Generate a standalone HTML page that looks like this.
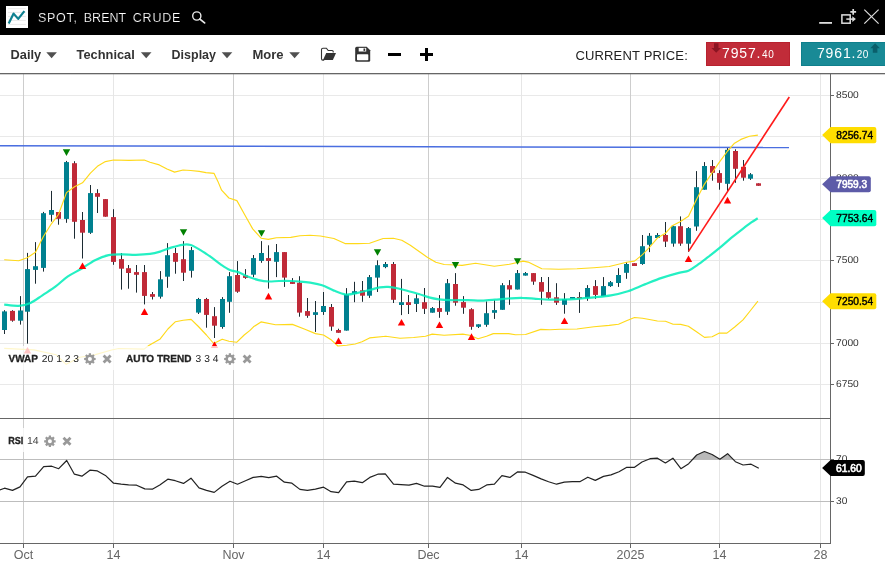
<!DOCTYPE html>
<html lang="en"><head><meta charset="utf-8"><title>SPOT, BRENT CRUDE</title>
<style>
html,body{margin:0;padding:0;background:#fff;}
body{width:885px;height:566px;overflow:hidden;position:relative;font-family:"Liberation Sans",Arial,sans-serif;}
svg{position:absolute;left:0;top:0;display:block;}
svg text{font-family:"Liberation Sans",Arial,sans-serif;}
</style></head><body>
<svg width="885" height="566" viewBox="0 0 885 566">
<rect x="0" y="0" width="885" height="566" fill="#fff"/>

<g id="grid" shape-rendering="crispEdges">
<line x1="0" y1="95.5" x2="830" y2="95.5" stroke="#e9e9e9" stroke-width="1"/>
<line x1="0" y1="136.5" x2="830" y2="136.5" stroke="#e9e9e9" stroke-width="1"/>
<line x1="0" y1="178.5" x2="830" y2="178.5" stroke="#e9e9e9" stroke-width="1"/>
<line x1="0" y1="219.5" x2="830" y2="219.5" stroke="#e9e9e9" stroke-width="1"/>
<line x1="0" y1="260.5" x2="830" y2="260.5" stroke="#e9e9e9" stroke-width="1"/>
<line x1="0" y1="302" x2="830" y2="302" stroke="#e9e9e9" stroke-width="1"/>
<line x1="0" y1="343.5" x2="830" y2="343.5" stroke="#e9e9e9" stroke-width="1"/>
<line x1="0" y1="384.5" x2="830" y2="384.5" stroke="#e9e9e9" stroke-width="1"/>
<line x1="23.5" y1="74" x2="23.5" y2="543" stroke="#cdcdcd" stroke-width="1"/>
<line x1="113.5" y1="74" x2="113.5" y2="543" stroke="#e6e6e6" stroke-width="1"/>
<line x1="233.5" y1="74" x2="233.5" y2="543" stroke="#cdcdcd" stroke-width="1"/>
<line x1="323.5" y1="74" x2="323.5" y2="543" stroke="#e6e6e6" stroke-width="1"/>
<line x1="428.5" y1="74" x2="428.5" y2="543" stroke="#cdcdcd" stroke-width="1"/>
<line x1="521.5" y1="74" x2="521.5" y2="543" stroke="#e6e6e6" stroke-width="1"/>
<line x1="630.5" y1="74" x2="630.5" y2="543" stroke="#cdcdcd" stroke-width="1"/>
<line x1="719.5" y1="74" x2="719.5" y2="543" stroke="#e6e6e6" stroke-width="1"/>
<line x1="820.5" y1="74" x2="820.5" y2="543" stroke="#e6e6e6" stroke-width="1"/>
<line x1="0" y1="459.5" x2="830" y2="459.5" stroke="#bdbdbd" stroke-width="1"/>
<line x1="0" y1="501.5" x2="830" y2="501.5" stroke="#bdbdbd" stroke-width="1"/>
</g>
<g id="candles">
<rect x="4.0" y="310.2" width="1" height="23.8" fill="#1c2b33"/>
<rect x="2.0" y="311.4" width="5" height="18.6" fill="#00808f"/>
<rect x="12.0" y="310.2" width="1" height="11.5" fill="#1c2b33"/>
<rect x="10.0" y="310.9" width="5" height="9.8" fill="#c02a38"/>
<rect x="20.0" y="296.1" width="1" height="28.5" fill="#1c2b33"/>
<rect x="18.0" y="310.5" width="5" height="10.2" fill="#00808f"/>
<rect x="27.0" y="252.9" width="1" height="90.7" fill="#1c2b33"/>
<rect x="25.0" y="269.1" width="5" height="42.6" fill="#00808f"/>
<rect x="35.0" y="242.1" width="1" height="41.6" fill="#1c2b33"/>
<rect x="33.0" y="266.2" width="5" height="3.7" fill="#00808f"/>
<rect x="43.0" y="211.9" width="1" height="59.7" fill="#1c2b33"/>
<rect x="41.0" y="213.2" width="5" height="54.7" fill="#00808f"/>
<rect x="51.0" y="190.9" width="1" height="30.7" fill="#1c2b33"/>
<rect x="49.0" y="210.0" width="5" height="4.8" fill="#00808f"/>
<rect x="58.0" y="212.0" width="1" height="12.7" fill="#1c2b33"/>
<rect x="56.0" y="212.0" width="5" height="6.8" fill="#c02a38"/>
<rect x="66.0" y="160.9" width="1" height="61.9" fill="#1c2b33"/>
<rect x="64.0" y="162.1" width="5" height="56.8" fill="#00808f"/>
<rect x="74.0" y="161.2" width="1" height="77.5" fill="#1c2b33"/>
<rect x="72.0" y="163.2" width="5" height="58.6" fill="#c02a38"/>
<rect x="82.0" y="212.0" width="1" height="46.5" fill="#1c2b33"/>
<rect x="80.0" y="220.0" width="5" height="12.7" fill="#c02a38"/>
<rect x="90.0" y="185.0" width="1" height="48.9" fill="#1c2b33"/>
<rect x="88.0" y="193.1" width="5" height="39.7" fill="#00808f"/>
<rect x="97.0" y="189.2" width="1" height="23.8" fill="#1c2b33"/>
<rect x="95.0" y="193.1" width="5" height="3.7" fill="#c02a38"/>
<rect x="105.0" y="199.1" width="1" height="17.6" fill="#1c2b33"/>
<rect x="103.0" y="199.1" width="5" height="17.6" fill="#c02a38"/>
<rect x="113.0" y="209.2" width="1" height="55.6" fill="#1c2b33"/>
<rect x="111.0" y="217.1" width="5" height="44.8" fill="#c02a38"/>
<rect x="121.0" y="253.1" width="1" height="36.5" fill="#1c2b33"/>
<rect x="119.0" y="259.1" width="5" height="9.6" fill="#c02a38"/>
<rect x="128.0" y="265.0" width="1" height="23.7" fill="#1c2b33"/>
<rect x="126.0" y="268.2" width="5" height="4.8" fill="#c02a38"/>
<rect x="136.0" y="265.0" width="1" height="27.6" fill="#1c2b33"/>
<rect x="134.0" y="272.1" width="5" height="2.7" fill="#c02a38"/>
<rect x="144.0" y="265.0" width="1" height="39.4" fill="#1c2b33"/>
<rect x="142.0" y="272.1" width="5" height="23.8" fill="#c02a38"/>
<rect x="152.0" y="292.0" width="1" height="7.5" fill="#1c2b33"/>
<rect x="150.0" y="294.1" width="5" height="2.7" fill="#c02a38"/>
<rect x="160.0" y="271.1" width="1" height="27.5" fill="#1c2b33"/>
<rect x="158.0" y="279.3" width="5" height="17.4" fill="#00808f"/>
<rect x="167.0" y="243.1" width="1" height="44.7" fill="#1c2b33"/>
<rect x="165.0" y="255.2" width="5" height="21.5" fill="#00808f"/>
<rect x="175.0" y="247.9" width="1" height="25.8" fill="#1c2b33"/>
<rect x="173.0" y="253.0" width="5" height="8.8" fill="#c02a38"/>
<rect x="183.0" y="241.1" width="1" height="39.9" fill="#1c2b33"/>
<rect x="181.0" y="259.2" width="5" height="13.5" fill="#c02a38"/>
<rect x="191.0" y="247.0" width="1" height="30.6" fill="#1c2b33"/>
<rect x="189.0" y="250.1" width="5" height="20.7" fill="#00808f"/>
<rect x="198.0" y="297.9" width="1" height="16.1" fill="#1c2b33"/>
<rect x="196.0" y="299.0" width="5" height="13.6" fill="#00808f"/>
<rect x="206.0" y="297.9" width="1" height="29.8" fill="#1c2b33"/>
<rect x="204.0" y="299.0" width="5" height="15.9" fill="#c02a38"/>
<rect x="214.0" y="307.1" width="1" height="30.9" fill="#1c2b33"/>
<rect x="212.0" y="316.2" width="5" height="9.5" fill="#c02a38"/>
<rect x="222.0" y="297.1" width="1" height="31.6" fill="#1c2b33"/>
<rect x="220.0" y="299.0" width="5" height="28.0" fill="#00808f"/>
<rect x="229.0" y="272.1" width="1" height="40.7" fill="#1c2b33"/>
<rect x="227.0" y="276.2" width="5" height="25.6" fill="#00808f"/>
<rect x="237.0" y="261.1" width="1" height="31.7" fill="#1c2b33"/>
<rect x="235.0" y="275.0" width="5" height="16.7" fill="#c02a38"/>
<rect x="245.0" y="269.1" width="1" height="9.7" fill="#1c2b33"/>
<rect x="243.0" y="275.4" width="5" height="2.5" fill="#c02a38"/>
<rect x="253.0" y="255.0" width="1" height="22.2" fill="#1c2b33"/>
<rect x="251.0" y="258.1" width="5" height="16.6" fill="#00808f"/>
<rect x="261.0" y="241.1" width="1" height="21.7" fill="#1c2b33"/>
<rect x="259.0" y="253.0" width="5" height="7.9" fill="#00808f"/>
<rect x="268.0" y="245.3" width="1" height="43.3" fill="#1c2b33"/>
<rect x="266.0" y="258.1" width="5" height="2.8" fill="#c02a38"/>
<rect x="276.0" y="244.0" width="1" height="33.1" fill="#1c2b33"/>
<rect x="274.0" y="252.1" width="5" height="9.7" fill="#00808f"/>
<rect x="284.0" y="252.1" width="1" height="34.8" fill="#1c2b33"/>
<rect x="282.0" y="252.1" width="5" height="25.5" fill="#c02a38"/>
<rect x="292.0" y="278.1" width="1" height="5.8" fill="#1c2b33"/>
<rect x="290.0" y="281.8" width="5" height="2.1" fill="#c02a38"/>
<rect x="299.0" y="276.2" width="1" height="40.5" fill="#1c2b33"/>
<rect x="297.0" y="282.7" width="5" height="29.9" fill="#c02a38"/>
<rect x="307.0" y="298.0" width="1" height="19.8" fill="#1c2b33"/>
<rect x="305.0" y="311.1" width="5" height="4.7" fill="#c02a38"/>
<rect x="315.0" y="301.0" width="1" height="30.9" fill="#1c2b33"/>
<rect x="313.0" y="312.2" width="5" height="2.7" fill="#00808f"/>
<rect x="323.0" y="292.0" width="1" height="22.9" fill="#1c2b33"/>
<rect x="321.0" y="306.0" width="5" height="6.0" fill="#00808f"/>
<rect x="331.0" y="304.0" width="1" height="26.8" fill="#1c2b33"/>
<rect x="329.0" y="307.0" width="5" height="19.6" fill="#c02a38"/>
<rect x="338.0" y="328.7" width="1" height="4.1" fill="#1c2b33"/>
<rect x="336.0" y="330.0" width="5" height="2.8" fill="#c02a38"/>
<rect x="346.0" y="288.1" width="1" height="42.5" fill="#1c2b33"/>
<rect x="344.0" y="294.5" width="5" height="36.1" fill="#00808f"/>
<rect x="354.0" y="281.8" width="1" height="20.4" fill="#1c2b33"/>
<rect x="352.0" y="291.2" width="5" height="2.5" fill="#00808f"/>
<rect x="362.0" y="281.0" width="1" height="20.8" fill="#1c2b33"/>
<rect x="360.0" y="290.3" width="5" height="5.4" fill="#c02a38"/>
<rect x="369.0" y="275.0" width="1" height="22.9" fill="#1c2b33"/>
<rect x="367.0" y="277.1" width="5" height="18.6" fill="#00808f"/>
<rect x="377.0" y="260.3" width="1" height="31.7" fill="#1c2b33"/>
<rect x="375.0" y="265.2" width="5" height="12.4" fill="#00808f"/>
<rect x="385.0" y="262.0" width="1" height="6.2" fill="#1c2b33"/>
<rect x="383.0" y="264.0" width="5" height="3.1" fill="#00808f"/>
<rect x="393.0" y="262.0" width="1" height="41.0" fill="#1c2b33"/>
<rect x="391.0" y="264.0" width="5" height="35.8" fill="#c02a38"/>
<rect x="401.0" y="278.9" width="1" height="36.2" fill="#1c2b33"/>
<rect x="399.0" y="302.2" width="5" height="2.8" fill="#00808f"/>
<rect x="408.0" y="295.0" width="1" height="19.0" fill="#1c2b33"/>
<rect x="406.0" y="302.2" width="5" height="2.8" fill="#c02a38"/>
<rect x="416.0" y="294.1" width="1" height="17.9" fill="#1c2b33"/>
<rect x="414.0" y="298.3" width="5" height="5.6" fill="#00808f"/>
<rect x="424.0" y="288.0" width="1" height="26.0" fill="#1c2b33"/>
<rect x="422.0" y="302.2" width="5" height="6.6" fill="#c02a38"/>
<rect x="432.0" y="307.0" width="1" height="5.7" fill="#1c2b33"/>
<rect x="430.0" y="308.1" width="5" height="4.6" fill="#00808f"/>
<rect x="439.0" y="295.1" width="1" height="22.7" fill="#1c2b33"/>
<rect x="437.0" y="308.1" width="5" height="3.8" fill="#c02a38"/>
<rect x="447.0" y="279.0" width="1" height="35.9" fill="#1c2b33"/>
<rect x="445.0" y="283.2" width="5" height="28.5" fill="#00808f"/>
<rect x="455.0" y="273.1" width="1" height="32.6" fill="#1c2b33"/>
<rect x="453.0" y="284.0" width="5" height="18.7" fill="#c02a38"/>
<rect x="463.0" y="296.1" width="1" height="17.7" fill="#1c2b33"/>
<rect x="461.0" y="302.1" width="5" height="5.6" fill="#c02a38"/>
<rect x="471.0" y="308.2" width="1" height="21.5" fill="#1c2b33"/>
<rect x="469.0" y="309.2" width="5" height="17.6" fill="#c02a38"/>
<rect x="478.0" y="324.3" width="1" height="3.7" fill="#1c2b33"/>
<rect x="476.0" y="324.3" width="5" height="2.5" fill="#00808f"/>
<rect x="486.0" y="301.4" width="1" height="25.4" fill="#1c2b33"/>
<rect x="484.0" y="313.2" width="5" height="11.6" fill="#00808f"/>
<rect x="494.0" y="300.2" width="1" height="18.7" fill="#1c2b33"/>
<rect x="492.0" y="310.1" width="5" height="2.7" fill="#00808f"/>
<rect x="502.0" y="283.1" width="1" height="26.7" fill="#1c2b33"/>
<rect x="500.0" y="285.2" width="5" height="24.6" fill="#00808f"/>
<rect x="509.0" y="280.1" width="1" height="24.7" fill="#1c2b33"/>
<rect x="507.0" y="285.2" width="5" height="4.3" fill="#c02a38"/>
<rect x="517.0" y="270.0" width="1" height="19.5" fill="#1c2b33"/>
<rect x="515.0" y="273.1" width="5" height="16.4" fill="#00808f"/>
<rect x="525.0" y="272.0" width="1" height="3.6" fill="#1c2b33"/>
<rect x="523.0" y="273.1" width="5" height="2.5" fill="#00808f"/>
<rect x="533.0" y="273.1" width="1" height="11.7" fill="#1c2b33"/>
<rect x="531.0" y="273.1" width="5" height="8.5" fill="#c02a38"/>
<rect x="541.0" y="277.0" width="1" height="27.8" fill="#1c2b33"/>
<rect x="539.0" y="282.1" width="5" height="9.6" fill="#c02a38"/>
<rect x="548.0" y="277.0" width="1" height="22.0" fill="#1c2b33"/>
<rect x="546.0" y="292.1" width="5" height="5.7" fill="#c02a38"/>
<rect x="556.0" y="283.2" width="1" height="21.7" fill="#1c2b33"/>
<rect x="554.0" y="297.3" width="5" height="5.4" fill="#c02a38"/>
<rect x="564.0" y="293.1" width="1" height="20.6" fill="#1c2b33"/>
<rect x="562.0" y="299.0" width="5" height="5.8" fill="#00808f"/>
<rect x="572.0" y="297.0" width="1" height="1.8" fill="#1c2b33"/>
<rect x="570.0" y="297.0" width="5" height="1.8" fill="#00808f"/>
<rect x="579.0" y="292.1" width="1" height="20.8" fill="#1c2b33"/>
<rect x="577.0" y="297.0" width="5" height="1.6" fill="#c02a38"/>
<rect x="587.0" y="285.1" width="1" height="15.7" fill="#1c2b33"/>
<rect x="585.0" y="288.0" width="5" height="10.0" fill="#00808f"/>
<rect x="595.0" y="280.1" width="1" height="18.7" fill="#1c2b33"/>
<rect x="593.0" y="286.1" width="5" height="8.8" fill="#c02a38"/>
<rect x="603.0" y="277.1" width="1" height="19.1" fill="#1c2b33"/>
<rect x="601.0" y="286.1" width="5" height="10.1" fill="#00808f"/>
<rect x="610.0" y="281.0" width="1" height="5.9" fill="#1c2b33"/>
<rect x="608.0" y="282.2" width="5" height="3.9" fill="#00808f"/>
<rect x="618.0" y="268.2" width="1" height="18.7" fill="#1c2b33"/>
<rect x="616.0" y="275.0" width="5" height="8.0" fill="#00808f"/>
<rect x="626.0" y="262.0" width="1" height="16.8" fill="#1c2b33"/>
<rect x="624.0" y="264.0" width="5" height="8.8" fill="#00808f"/>
<rect x="634.0" y="263.2" width="1" height="2.8" fill="#1c2b33"/>
<rect x="632.0" y="263.2" width="5" height="2.8" fill="#c02a38"/>
<rect x="642.0" y="235.0" width="1" height="29.8" fill="#1c2b33"/>
<rect x="640.0" y="246.2" width="5" height="17.8" fill="#00808f"/>
<rect x="649.0" y="233.1" width="1" height="19.0" fill="#1c2b33"/>
<rect x="647.0" y="235.8" width="5" height="9.0" fill="#00808f"/>
<rect x="657.0" y="233.1" width="1" height="4.9" fill="#1c2b33"/>
<rect x="655.0" y="235.0" width="5" height="3.0" fill="#00808f"/>
<rect x="665.0" y="222.0" width="1" height="25.0" fill="#1c2b33"/>
<rect x="663.0" y="235.0" width="5" height="6.6" fill="#c02a38"/>
<rect x="673.0" y="225.7" width="1" height="21.0" fill="#1c2b33"/>
<rect x="671.0" y="226.2" width="5" height="17.4" fill="#00808f"/>
<rect x="680.0" y="216.4" width="1" height="29.4" fill="#1c2b33"/>
<rect x="678.0" y="226.2" width="5" height="17.4" fill="#c02a38"/>
<rect x="688.0" y="227.0" width="1" height="24.8" fill="#1c2b33"/>
<rect x="686.0" y="228.1" width="5" height="15.6" fill="#00808f"/>
<rect x="696.0" y="171.1" width="1" height="59.7" fill="#1c2b33"/>
<rect x="694.0" y="187.2" width="5" height="39.3" fill="#00808f"/>
<rect x="704.0" y="162.1" width="1" height="27.6" fill="#1c2b33"/>
<rect x="702.0" y="166.0" width="5" height="23.7" fill="#00808f"/>
<rect x="712.0" y="160.0" width="1" height="20.7" fill="#1c2b33"/>
<rect x="710.0" y="166.0" width="5" height="6.8" fill="#c02a38"/>
<rect x="719.0" y="170.2" width="1" height="19.5" fill="#1c2b33"/>
<rect x="717.0" y="173.1" width="5" height="9.7" fill="#c02a38"/>
<rect x="727.0" y="147.6" width="1" height="43.3" fill="#1c2b33"/>
<rect x="725.0" y="149.8" width="5" height="34.0" fill="#00808f"/>
<rect x="735.0" y="149.3" width="1" height="33.5" fill="#1c2b33"/>
<rect x="733.0" y="151.0" width="5" height="17.8" fill="#c02a38"/>
<rect x="743.0" y="160.0" width="1" height="20.7" fill="#1c2b33"/>
<rect x="741.0" y="166.8" width="5" height="10.9" fill="#c02a38"/>
<rect x="750.0" y="173.1" width="1" height="6.8" fill="#1c2b33"/>
<rect x="748.0" y="174.3" width="5" height="4.4" fill="#00808f"/>
<rect x="758.0" y="183.3" width="1" height="2.5" fill="#1c2b33"/>
<rect x="756.0" y="183.3" width="5" height="2.5" fill="#c02a38"/>
</g>
<line x1="0" y1="145.8" x2="789" y2="147.55" stroke="#4a6ee0" stroke-width="1.5"/>
<polyline points="4.2,259.7 18.7,260.7 27.2,257.7 35.5,252.3 43.4,236.5 51.4,223.8 58.5,214.5 66.5,192.6 74.5,186.7 82.5,182.8 90.4,173.1 97.4,166.3 105.4,161.6 113.5,160.0 129.0,160.4 144.2,160.0 150.0,162.2 159.3,164.9 167.0,169.0 174.6,172.1 183.1,170.0 190.7,170.5 199.2,171.4 206.0,172.6 214.1,173.4 217.9,181.4 221.6,190.2 228.9,198.0 236.9,200.6 245.0,215.3 252.7,228.9 261.1,238.2 268.3,239.4 276.4,237.7 290.8,237.4 300.0,235.7 310.0,235.2 320.4,236.0 333.9,238.5 345.0,243.6 357.7,243.6 369.6,243.3 383.1,238.5 393.3,238.2 401.8,240.2 410.3,245.3 418.8,251.3 427.3,257.2 435.8,262.3 444.2,264.5 450.2,264.7 462.1,265.4 475.6,263.3 494.3,266.2 509.6,264.2 523.1,261.1 528.2,262.1 541.8,268.8 558.8,269.3 577.0,268.8 593.9,267.7 609.2,266.5 618.5,264.3 626.5,262.3 634.5,261.1 642.5,254.6 649.4,247.4 657.4,238.1 665.4,233.3 672.2,225.7 680.1,221.8 688.5,216.2 696.5,199.4 704.5,184.1 712.5,172.2 719.4,162.1 727.6,151.0 734.1,143.6 740.9,139.4 749.4,136.3 757.9,135.1" fill="none" stroke="#ffd91a" stroke-width="1.15" stroke-linejoin="round"/>
<polyline points="4.2,348.4 34.0,349.9 56.0,354.7 66.2,364.3 80.0,357.3 94.5,354.9 111.6,350.0 118.7,348.5 144.1,349.1 149.2,345.2 160.2,338.9 167.9,329.0 175.5,321.7 183.2,320.2 191.1,319.4 198.4,326.5 206.4,335.0 213.7,343.5 222.2,339.2 229.0,341.2 236.6,342.3 244.2,335.0 250.0,330.4 253.5,326.8 261.0,321.9 275.5,324.8 292.4,324.4 304.3,329.0 315.5,333.6 323.5,335.0 331.5,340.1 337.9,346.0 346.7,345.2 355.2,344.0 362.0,341.8 369.6,337.9 385.8,336.2 400.0,338.3 413.6,337.5 425.5,336.2 432.2,334.1 444.1,335.3 462.8,334.1 469.6,335.3 478.1,338.7 486.5,336.2 493.3,333.6 508.6,333.6 515.4,334.8 525.6,334.5 540.8,329.4 550.0,329.7 560.0,329.3 577.0,329.0 593.9,326.8 609.2,325.4 618.5,324.2 626.5,320.8 634.5,317.5 642.5,318.3 649.4,319.5 657.4,321.0 665.5,321.3 673.1,324.3 680.7,324.4 688.4,326.2 696.5,331.8 704.5,337.4 712.1,336.8 719.4,333.1 726.9,333.1 735.0,326.7 743.0,319.9 750.5,310.5 757.9,301.2" fill="none" stroke="#ffd91a" stroke-width="1.15" stroke-linejoin="round"/>
<path d="M4.2,304.6 C6.6,304.8 14.3,306.1 18.7,305.8 C23.1,305.5 26.6,304.6 30.5,302.9 C34.5,301.1 38.1,298.1 42.4,295.3 C46.6,292.5 51.8,289.4 56.0,286.2 C60.2,283.0 63.7,279.3 67.9,276.4 C72.2,273.5 77.0,271.4 81.5,268.7 C86.0,266.0 90.5,262.5 95.0,260.2 C99.5,257.9 104.1,256.1 108.6,255.1 C113.1,254.1 117.7,254.4 122.2,254.3 C126.7,254.2 131.2,254.9 135.8,254.8 C140.4,254.7 145.9,254.4 150.0,253.9 C154.1,253.4 156.8,252.6 160.2,251.6 C163.6,250.6 166.7,249.0 170.4,247.9 C174.1,246.8 178.8,245.3 182.2,244.8 C185.6,244.3 187.6,244.1 190.7,245.0 C193.8,245.9 197.5,248.4 200.9,250.4 C204.3,252.4 207.7,254.8 211.1,257.2 C214.5,259.6 218.2,262.7 221.3,264.8 C224.4,266.9 227.0,268.7 229.8,269.9 C232.6,271.1 235.1,271.0 238.2,272.1 C241.3,273.2 245.0,275.4 248.4,276.7 C251.8,278.0 255.2,279.3 258.6,280.1 C262.0,280.9 265.4,281.4 268.8,281.5 C272.2,281.6 275.3,281.1 279.0,281.0 C282.7,280.9 287.3,280.9 290.8,281.0 C294.3,281.1 296.8,281.2 300.0,281.5 C303.2,281.8 306.5,282.1 310.2,282.7 C313.9,283.3 318.2,283.9 322.1,285.2 C326.1,286.5 329.9,289.1 333.9,290.6 C337.8,292.2 341.8,294.1 345.8,294.5 C349.8,294.9 353.7,293.6 357.7,292.8 C361.7,292.1 365.9,290.9 369.6,290.0 C373.3,289.1 376.7,287.9 379.8,287.4 C382.9,286.9 385.1,286.7 388.2,286.9 C391.3,287.1 395.0,287.8 398.4,288.5 C401.8,289.2 405.2,290.3 408.6,291.2 C412.0,292.1 415.4,293.0 418.8,294.0 C422.2,295.0 425.6,296.5 429.0,297.4 C432.4,298.3 435.5,298.9 439.1,299.4 C442.8,299.9 446.1,300.1 450.9,300.2 C455.7,300.3 462.8,300.1 467.9,300.2 C473.0,300.3 477.0,300.8 481.5,300.7 C486.0,300.6 490.5,300.1 495.0,299.7 C499.5,299.3 504.1,298.8 508.6,298.5 C513.1,298.2 517.7,297.8 522.2,297.9 C526.7,297.9 531.2,298.5 535.8,298.8 C540.4,299.1 545.6,299.5 550.0,299.6 C554.4,299.7 557.7,299.6 562.2,299.5 C566.7,299.4 571.7,299.2 577.0,298.8 C582.3,298.4 588.2,298.0 593.9,297.4 C599.5,296.8 605.2,296.4 610.9,295.4 C616.6,294.4 622.2,293.0 627.9,291.2 C633.5,289.4 639.1,286.6 644.8,284.4 C650.4,282.2 656.1,279.8 661.8,277.9 C667.5,276.0 674.3,274.1 678.8,272.9 C683.2,271.7 685.5,272.1 688.5,270.8 C691.5,269.5 693.9,267.5 697.0,265.3 C700.1,263.1 703.5,260.5 707.2,257.7 C710.9,254.9 715.0,251.7 719.0,248.4 C723.0,245.2 726.9,241.5 730.9,238.2 C734.9,234.9 739.4,231.4 742.8,228.8 C746.2,226.2 748.8,224.2 751.3,222.4 C753.8,220.7 756.6,219.0 757.7,218.3" fill="none" stroke="#00eeb9" stroke-width="2.2" stroke-opacity="0.86" stroke-linejoin="round" stroke-linecap="butt"/>
<line x1="688.5" y1="251.4" x2="789.3" y2="97" stroke="#ff1a1a" stroke-width="1.6"/>
<polygon points="62.8,149.3 70.2,149.3 66.5,155.9" fill="#008000"/>
<polygon points="179.8,229.2 187.2,229.2 183.5,235.8" fill="#008000"/>
<polygon points="257.8,230.2 265.2,230.2 261.5,236.8" fill="#008000"/>
<polygon points="373.8,249.2 381.2,249.2 377.5,255.8" fill="#008000"/>
<polygon points="451.8,262.1 459.2,262.1 455.5,268.7" fill="#008000"/>
<polygon points="513.8,258.2 521.2,258.2 517.5,264.8" fill="#008000"/>
<polygon points="23.8,353.6 31.2,353.6 27.5,347.0" fill="#ff0000"/>
<polygon points="78.8,269.0 86.2,269.0 82.5,262.4" fill="#ff0000"/>
<polygon points="140.8,314.9 148.2,314.9 144.5,308.3" fill="#ff0000"/>
<polygon points="210.8,348.1 218.2,348.1 214.5,341.5" fill="#ff0000"/>
<polygon points="264.8,299.4 272.2,299.4 268.5,292.8" fill="#ff0000"/>
<polygon points="334.8,344.1 342.2,344.1 338.5,337.5" fill="#ff0000"/>
<polygon points="397.8,325.5 405.2,325.5 401.5,318.9" fill="#ff0000"/>
<polygon points="435.8,328.0 443.2,328.0 439.5,321.4" fill="#ff0000"/>
<polygon points="467.8,339.9 475.2,339.9 471.5,333.3" fill="#ff0000"/>
<polygon points="560.8,324.1 568.2,324.1 564.5,317.5" fill="#ff0000"/>
<polygon points="684.8,262.1 692.2,262.1 688.5,255.5" fill="#ff0000"/>
<polygon points="723.8,203.4 731.2,203.4 727.5,196.8" fill="#ff0000"/>
<rect x="4" y="346" width="252" height="24" fill="#fff" fill-opacity="0.77"/>
<rect x="4" y="428" width="72" height="24" fill="#fff" fill-opacity="0.77"/>
<g font-size="10.2" fill="#222" text-rendering="geometricPrecision">
<text x="8.5" y="362" font-weight="bold" stroke="#222" stroke-width="0.3" textLength="29.5" lengthAdjust="spacingAndGlyphs">VWAP</text>
<text x="41.8" y="362" textLength="37.3" lengthAdjust="spacingAndGlyphs">20 1 2 3</text>
<text x="125.9" y="362" font-weight="bold" stroke="#222" stroke-width="0.3" textLength="65.6" lengthAdjust="spacingAndGlyphs">AUTO TREND</text>
<text x="195.6" y="362" textLength="22.8" lengthAdjust="spacingAndGlyphs">3 3 4</text>
<text x="8.2" y="443.9" font-weight="bold" stroke="#222" stroke-width="0.3" textLength="15.2" lengthAdjust="spacingAndGlyphs">RSI</text>
<text x="27" y="443.9" fill="#444" textLength="11.7" lengthAdjust="spacingAndGlyphs">14</text>
</g>
<path d="M94.14,357.83L95.64,357.90L95.64,360.10L94.14,360.17L93.73,361.17L94.74,362.28L93.18,363.84L92.07,362.83L91.07,363.24L91.00,364.74L88.80,364.74L88.73,363.24L87.73,362.83L86.62,363.84L85.06,362.28L86.07,361.17L85.66,360.17L84.16,360.10L84.16,357.90L85.66,357.83L86.07,356.83L85.06,355.72L86.62,354.16L87.73,355.17L88.73,354.76L88.80,353.26L91.00,353.26L91.07,354.76L92.07,355.17L93.18,354.16L94.74,355.72L93.73,356.83ZM91.90,359.00A2.0,2.0 0 1,0 87.90,359.00A2.0,2.0 0 1,0 91.90,359.00Z" fill="#999" fill-rule="evenodd"/>
<path d="M103.6,355.5L110.6,362.5M110.6,355.5L103.6,362.5" stroke="#999" stroke-width="2.8" stroke-linecap="butt" fill="none"/>
<path d="M234.14,357.83L235.64,357.90L235.64,360.10L234.14,360.17L233.73,361.17L234.74,362.28L233.18,363.84L232.07,362.83L231.07,363.24L231.00,364.74L228.80,364.74L228.73,363.24L227.73,362.83L226.62,363.84L225.06,362.28L226.07,361.17L225.66,360.17L224.16,360.10L224.16,357.90L225.66,357.83L226.07,356.83L225.06,355.72L226.62,354.16L227.73,355.17L228.73,354.76L228.80,353.26L231.00,353.26L231.07,354.76L232.07,355.17L233.18,354.16L234.74,355.72L233.73,356.83ZM231.90,359.00A2.0,2.0 0 1,0 227.90,359.00A2.0,2.0 0 1,0 231.90,359.00Z" fill="#999" fill-rule="evenodd"/>
<path d="M243.6,355.5L250.6,362.5M250.6,355.5L243.6,362.5" stroke="#999" stroke-width="2.8" stroke-linecap="butt" fill="none"/>
<path d="M54.14,440.13L55.64,440.20L55.64,442.40L54.14,442.47L53.73,443.47L54.74,444.58L53.18,446.14L52.07,445.13L51.07,445.54L51.00,447.04L48.80,447.04L48.73,445.54L47.73,445.13L46.62,446.14L45.06,444.58L46.07,443.47L45.66,442.47L44.16,442.40L44.16,440.20L45.66,440.13L46.07,439.13L45.06,438.02L46.62,436.46L47.73,437.47L48.73,437.06L48.80,435.56L51.00,435.56L51.07,437.06L52.07,437.47L53.18,436.46L54.74,438.02L53.73,439.13ZM51.90,441.30A2.0,2.0 0 1,0 47.90,441.30A2.0,2.0 0 1,0 51.90,441.30Z" fill="#999" fill-rule="evenodd"/>
<path d="M63.5,437.8L70.5,444.8M70.5,437.8L63.5,444.8" stroke="#999" stroke-width="2.8" stroke-linecap="butt" fill="none"/>
<clipPath id="ob"><rect x="0" y="440" width="830" height="19.5"/></clipPath>
<polygon points="-3.3,470.0 -3.3,491.2 4.5,488.2 12.5,490.4 20.0,486.9 27.5,476.9 35.5,476.2 43.7,466.7 51.7,466.2 58.7,468.7 66.7,460.5 74.4,474.2 81.9,476.2 89.9,470.2 97.4,470.9 105.4,475.4 113.6,483.2 121.1,484.2 128.6,484.9 136.6,485.2 144.8,488.9 152.3,489.2 159.8,484.9 167.8,479.2 175.3,480.7 183.5,483.4 191.0,478.2 199.0,487.9 206.5,490.4 214.2,492.4 222.0,486.2 230.0,481.2 237.5,484.2 245.5,480.7 253.2,477.4 261.2,476.4 268.7,477.7 276.7,476.2 284.4,482.2 291.9,483.2 299.9,489.4 307.4,490.4 315.4,489.2 323.6,487.2 331.1,491.7 338.6,492.7 346.6,481.9 354.3,481.2 362.3,482.7 369.8,477.4 377.8,474.2 385.3,473.9 393.5,484.2 401.0,484.7 409.0,485.2 416.5,483.4 424.5,486.2 432.5,486.2 440.0,487.4 447.5,477.4 455.5,483.2 463.2,484.9 471.2,490.4 478.7,489.4 486.7,484.9 494.4,484.2 501.9,475.7 509.9,477.4 517.4,471.9 525.4,472.2 533.1,475.4 541.1,478.9 548.6,481.7 556.6,484.2 564.3,482.2 572.3,481.7 579.8,481.7 587.8,477.2 595.3,480.4 603.5,476.4 611.0,474.9 619.0,471.7 626.4,467.4 634.2,467.4 642.0,462.0 650.0,458.7 657.5,458.2 665.4,463.0 672.9,458.2 680.9,468.7 688.7,463.7 696.7,455.0 704.4,451.5 712.1,454.5 719.9,459.2 727.6,453.7 735.4,461.7 743.1,465.0 751.1,464.2 758.8,468.2 758.8,470.0" fill="#b9b9b9" clip-path="url(#ob)"/>
<polyline points="-3.3,491.2 4.5,488.2 12.5,490.4 20.0,486.9 27.5,476.9 35.5,476.2 43.7,466.7 51.7,466.2 58.7,468.7 66.7,460.5 74.4,474.2 81.9,476.2 89.9,470.2 97.4,470.9 105.4,475.4 113.6,483.2 121.1,484.2 128.6,484.9 136.6,485.2 144.8,488.9 152.3,489.2 159.8,484.9 167.8,479.2 175.3,480.7 183.5,483.4 191.0,478.2 199.0,487.9 206.5,490.4 214.2,492.4 222.0,486.2 230.0,481.2 237.5,484.2 245.5,480.7 253.2,477.4 261.2,476.4 268.7,477.7 276.7,476.2 284.4,482.2 291.9,483.2 299.9,489.4 307.4,490.4 315.4,489.2 323.6,487.2 331.1,491.7 338.6,492.7 346.6,481.9 354.3,481.2 362.3,482.7 369.8,477.4 377.8,474.2 385.3,473.9 393.5,484.2 401.0,484.7 409.0,485.2 416.5,483.4 424.5,486.2 432.5,486.2 440.0,487.4 447.5,477.4 455.5,483.2 463.2,484.9 471.2,490.4 478.7,489.4 486.7,484.9 494.4,484.2 501.9,475.7 509.9,477.4 517.4,471.9 525.4,472.2 533.1,475.4 541.1,478.9 548.6,481.7 556.6,484.2 564.3,482.2 572.3,481.7 579.8,481.7 587.8,477.2 595.3,480.4 603.5,476.4 611.0,474.9 619.0,471.7 626.4,467.4 634.2,467.4 642.0,462.0 650.0,458.7 657.5,458.2 665.4,463.0 672.9,458.2 680.9,468.7 688.7,463.7 696.7,455.0 704.4,451.5 712.1,454.5 719.9,459.2 727.6,453.7 735.4,461.7 743.1,465.0 751.1,464.2 758.8,468.2" fill="none" stroke="#222" stroke-width="1.2" stroke-linejoin="round"/>
<g shape-rendering="crispEdges" stroke="#666" stroke-width="1">
<line x1="0" y1="418.5" x2="830" y2="418.5"/>
<line x1="0" y1="543.5" x2="831" y2="543.5"/>
<line x1="830.5" y1="74" x2="830.5" y2="544"/>
<line x1="831" y1="95.5" x2="833.6" y2="95.5"/>
<line x1="831" y1="136.5" x2="833.6" y2="136.5"/>
<line x1="831" y1="178.5" x2="833.6" y2="178.5"/>
<line x1="831" y1="219.5" x2="833.6" y2="219.5"/>
<line x1="831" y1="260.5" x2="833.6" y2="260.5"/>
<line x1="831" y1="302" x2="833.6" y2="302"/>
<line x1="831" y1="343.5" x2="833.6" y2="343.5"/>
<line x1="831" y1="384.5" x2="833.6" y2="384.5"/>
<line x1="831" y1="459.5" x2="833.6" y2="459.5"/>
<line x1="831" y1="501.5" x2="833.6" y2="501.5"/>
<line x1="23.5" y1="544" x2="23.5" y2="548"/>
<line x1="113.5" y1="544" x2="113.5" y2="548"/>
<line x1="233.5" y1="544" x2="233.5" y2="548"/>
<line x1="323.5" y1="544" x2="323.5" y2="548"/>
<line x1="428.5" y1="544" x2="428.5" y2="548"/>
<line x1="521.5" y1="544" x2="521.5" y2="548"/>
<line x1="630.5" y1="544" x2="630.5" y2="548"/>
<line x1="719.5" y1="544" x2="719.5" y2="548"/>
<line x1="820.5" y1="544" x2="820.5" y2="548"/>
</g>
<g font-size="9.8" fill="#333" text-rendering="geometricPrecision">
<text x="836.1" y="98.1" textLength="22.7" lengthAdjust="spacingAndGlyphs">8500</text>
<text x="836.1" y="139.1" textLength="22.7" lengthAdjust="spacingAndGlyphs">8250</text>
<text x="836.1" y="181.1" textLength="22.7" lengthAdjust="spacingAndGlyphs">8000</text>
<text x="836.1" y="222.1" textLength="22.7" lengthAdjust="spacingAndGlyphs">7750</text>
<text x="836.1" y="263.1" textLength="22.7" lengthAdjust="spacingAndGlyphs">7500</text>
<text x="836.1" y="304.6" textLength="22.7" lengthAdjust="spacingAndGlyphs">7250</text>
<text x="836.1" y="346.1" textLength="22.7" lengthAdjust="spacingAndGlyphs">7000</text>
<text x="836.1" y="387.1" textLength="22.7" lengthAdjust="spacingAndGlyphs">6750</text>
<text x="836.1" y="462.2" textLength="11.3" lengthAdjust="spacingAndGlyphs">70</text>
<text x="836.1" y="504.2" textLength="11.3" lengthAdjust="spacingAndGlyphs">30</text>
</g>
<g font-size="12.5" fill="#666" text-anchor="middle">
<text x="23.5" y="559">Oct</text>
<text x="113.5" y="559">14</text>
<text x="233.5" y="559">Nov</text>
<text x="323.5" y="559">14</text>
<text x="428.5" y="559">Dec</text>
<text x="521.5" y="559">14</text>
<text x="630.5" y="559">2025</text>
<text x="719.5" y="559">14</text>
<text x="820.5" y="559">28</text>
</g>
<path d="M822.1,135.1L830.6,127.0L874.3,127.0Q876.3,127.0 876.3,129.0L876.3,141.2Q876.3,143.2 874.3,143.2L830.6,143.2Z" fill="#ffdd00"/><text x="836.3" y="138.7" font-size="10" fill="#000" stroke="#000" stroke-width="0.4" textLength="36.9" lengthAdjust="spacingAndGlyphs">8256.74</text>
<path d="M822.1,184.2L830.6,176.2L868.8,176.2Q870.8,176.2 870.8,178.2L870.8,190.2Q870.8,192.2 868.8,192.2L830.6,192.2Z" fill="#5d5ba8"/><text x="836.3" y="187.8" font-size="10" fill="#fff" stroke="#fff" stroke-width="0.6" textLength="30.8" lengthAdjust="spacingAndGlyphs">7959.3</text>
<path d="M822.1,218.1L830.6,209.9L874.3,209.9Q876.3,209.9 876.3,211.9L876.3,224.2Q876.3,226.2 874.3,226.2L830.6,226.2Z" fill="#00ffc3"/><text x="836.3" y="221.7" font-size="10" fill="#000" stroke="#000" stroke-width="0.4" textLength="36.9" lengthAdjust="spacingAndGlyphs">7753.64</text>
<path d="M822.1,301.2L830.6,293.2L874.3,293.2Q876.3,293.2 876.3,295.2L876.3,307.3Q876.3,309.3 874.3,309.3L830.6,309.3Z" fill="#ffdd00"/><text x="836.3" y="304.9" font-size="10" fill="#000" stroke="#000" stroke-width="0.4" textLength="36.9" lengthAdjust="spacingAndGlyphs">7250.54</text>
<path d="M822.1,468.1L830.6,460.1L862.8,460.1Q864.8,460.1 864.8,462.1L864.8,474.1Q864.8,476.1 862.8,476.1L830.6,476.1Z" fill="#000"/><text x="836.0" y="471.7" font-size="10" fill="#fff" stroke="#fff" stroke-width="0.6" textLength="25.8" lengthAdjust="spacingAndGlyphs">61.60</text>
<rect x="0" y="0" width="885" height="35" fill="#000"/>
<rect x="6" y="6" width="22" height="22" fill="#fff"/>
<line x1="8" y1="8.7" x2="25.8" y2="8.7" stroke="#e9e9e9" stroke-width="1"/>
<line x1="8" y1="12.4" x2="25.8" y2="12.4" stroke="#e9e9e9" stroke-width="1"/>
<line x1="8" y1="16.4" x2="25.8" y2="16.4" stroke="#e9e9e9" stroke-width="1"/>
<line x1="8" y1="20.4" x2="25.8" y2="20.4" stroke="#e9e9e9" stroke-width="1"/>
<line x1="8" y1="24.4" x2="25.8" y2="24.4" stroke="#e9e9e9" stroke-width="1"/>
<polyline points="8.7,23.5 13.6,13.6 18.2,18.9 24.4,11.1" fill="none" stroke="#0e8090" stroke-width="2.2" stroke-linejoin="round"/>
<text y="21.9" font-size="12.5" fill="#fff" stroke="#000" stroke-width="0.2"><tspan x="37.9" textLength="39" lengthAdjust="spacing">SPOT,</tspan> <tspan x="83.7" textLength="42.3" lengthAdjust="spacing">BRENT</tspan> <tspan x="132.8" textLength="47.6" lengthAdjust="spacing">CRUDE</tspan></text>
<circle cx="196.8" cy="16" r="4.1" fill="none" stroke="#e8e8e8" stroke-width="1.4"/>
<line x1="199.9" y1="19.1" x2="204.6" y2="22.9" stroke="#e8e8e8" stroke-width="1.8" stroke-linecap="round"/>
<rect x="819.2" y="22" width="12.8" height="1.8" fill="#ddd"/>
<rect x="841.9" y="14.9" width="8.3" height="8.3" fill="none" stroke="#ddd" stroke-width="1.5"/>
<path d="M846.3,19.1H854" stroke="#ddd" stroke-width="1.5" fill="none"/>
<path d="M852.3,16.3L855.9,19.1L852.3,21.9Z" fill="#ddd"/>
<path d="M850.3,11.9H856.1M853.2,9V14.8" stroke="#ddd" stroke-width="1.7" fill="none"/>
<path d="M864.3,9.6L878.6,23.6M878.6,9.6L864.3,23.6" stroke="#ddd" stroke-width="1.2" fill="none"/>
<rect x="0" y="73" width="885" height="1.3" fill="#666"/>
<g font-size="13" font-weight="bold" fill="#333">
<text x="10.6" y="59.2" textLength="30.6" lengthAdjust="spacingAndGlyphs">Daily</text>
<polygon points="46.3,52.2 56.9,52.2 51.6,58.2" fill="#505050"/>
<text x="76.6" y="59.2" textLength="58.2" lengthAdjust="spacingAndGlyphs">Technical</text>
<polygon points="140.9,52.2 151.5,52.2 146.2,58.2" fill="#505050"/>
<text x="171.6" y="59.2" textLength="44.4" lengthAdjust="spacingAndGlyphs">Display</text>
<polygon points="221.7,52.2 232.3,52.2 227.0,58.2" fill="#505050"/>
<text x="252.5" y="59.2" textLength="31.1" lengthAdjust="spacingAndGlyphs">More</text>
<polygon points="289.3,52.2 299.9,52.2 294.6,58.2" fill="#505050"/>
</g>
<path d="M324.2,60.1H322.8Q321.5,60.1 321.5,58.8V49.6Q321.5,48.2 322.9,48.2H326.4L328.2,50.5H332.2Q333.2,50.5 333.2,51.5V52.6" fill="none" stroke="#333" stroke-width="1.1"/>
<path d="M326.2,53.1H336L332.9,60H323Z" fill="#333"/>
<path d="M356.7,46.8H366.7L370.2,50.3V60.3Q370.2,61.8 368.7,61.8H356.7Q355.2,61.8 355.2,60.3V48.3Q355.2,46.8 356.7,46.8Z" fill="#333"/>
<rect x="357" y="54.3" width="11.3" height="6" rx="0.8" fill="#fff"/>
<rect x="358.7" y="47.9" width="7.5" height="3.6" fill="#fff"/>
<rect x="363.5" y="48.5" width="1.7" height="2.4" fill="#333"/>
<rect x="388" y="53" width="13" height="3" fill="#000"/>
<rect x="420" y="53" width="13" height="3" fill="#000"/>
<rect x="425" y="48" width="3" height="13" fill="#000"/>
<text x="575.4" y="60" font-size="13" fill="#222" textLength="112.4" lengthAdjust="spacing">CURRENT PRICE:</text>
<rect x="706.5" y="42.5" width="83" height="23" fill="#c12c39" stroke="#b8222f" stroke-width="1"/>
<rect x="801.5" y="42.5" width="84" height="23" fill="#198a96" stroke="#0f7f8c" stroke-width="1"/>
<path d="M714,43.2H718.5V48H721L716.2,52.8L711.4,48H714Z" fill="#8b1422"/>
<path d="M872.8,52.8H877.4V48.2H879.9L875.1,43.3L870.3,48.2H872.8Z" fill="#0a5f6b"/>
<g fill="#fff">
<text x="722" y="57.8" font-size="14" textLength="38.5" lengthAdjust="spacing">7957.</text>
<text x="761.9" y="57.8" font-size="10" textLength="11.8" lengthAdjust="spacing">40</text>
<text x="816.9" y="57.8" font-size="14" textLength="38.6" lengthAdjust="spacing">7961.</text>
<text x="856.8" y="57.8" font-size="10" textLength="11.6" lengthAdjust="spacing">20</text>
</g>
</svg>
</body></html>
